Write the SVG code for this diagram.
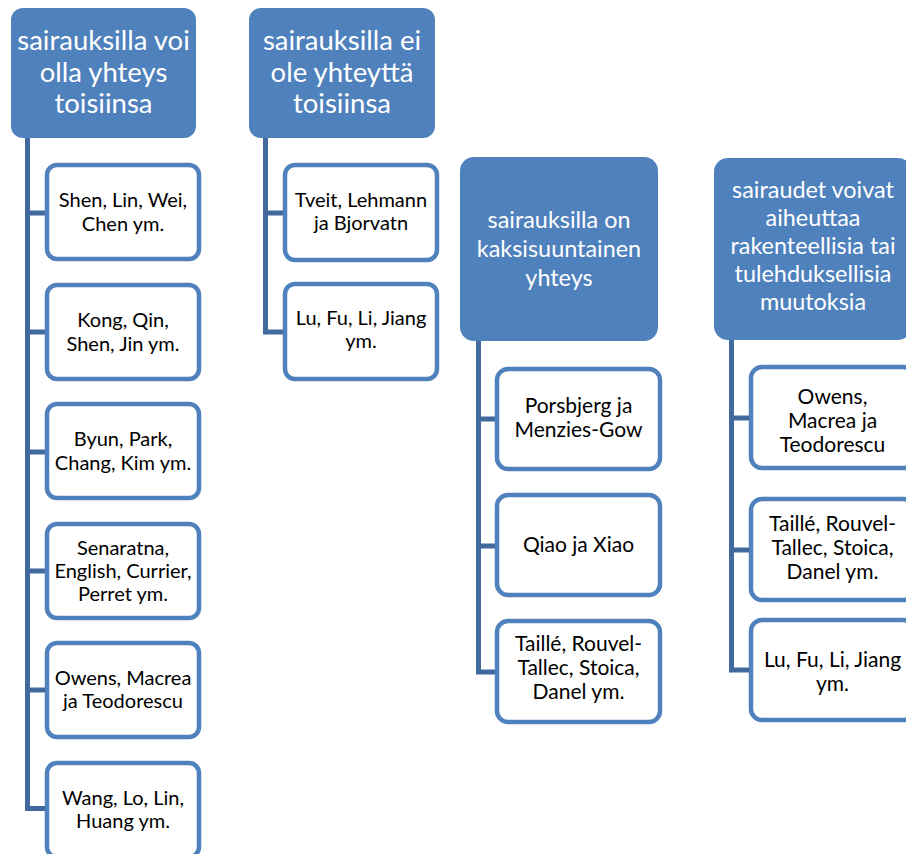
<svg xmlns="http://www.w3.org/2000/svg" width="906" height="854" viewBox="0 0 906 854">
<style>
.hd{fill:#4f81bd;}
.ch{fill:#ffffff;stroke:#4f81bd;stroke-width:4.5;}
.conn{fill:none;stroke:#41699d;stroke-width:5;stroke-linejoin:miter;}
.ht{font-family:Lato,"Open Sans",sans-serif;fill:#ffffff;text-anchor:middle;}
.h1{font-size:27.5px;}
.h2{font-size:23.4px;}
.ct{font-family:Lato,"Open Sans",sans-serif;fill:#000000;text-anchor:middle;}
.c1{font-size:20px;}
.c2{font-size:21px;}
</style>
<rect width="906" height="854" fill="#ffffff"/>
<g id="connectors">
<path class="conn" d="M27.5,138 V808.5 H47 M27.5,213 H47 M27.5,332 H47 M27.5,452 H47 M27.5,571 H47 M27.5,690 H47"/>
<path class="conn" d="M265.5,138 V332 H285 M265.5,213 H285"/>
<path class="conn" d="M478.5,341 V672 H497 M478.5,419 H497 M478.5,546 H497"/>
<path class="conn" d="M731.5,340 V670 H751 M731.5,418 H751 M731.5,550 H751"/>
</g>
<g id="h1"><rect class="hd" x="11" y="8" width="185" height="130" rx="12"/>
<text class="ht h1"><tspan x="103.5" y="50">sairauksilla voi</tspan><tspan x="103.5" y="82">olla yhteys</tspan><tspan x="103.5" y="113">toisiinsa</tspan></text></g>
<g id="h2"><rect class="hd" x="249" y="8" width="186" height="130" rx="12"/>
<text class="ht h1"><tspan x="342" y="50">sairauksilla ei</tspan><tspan x="342" y="82">ole yhteyttä</tspan><tspan x="342" y="113">toisiinsa</tspan></text></g>
<g id="h3"><rect class="hd" x="460" y="157" width="198" height="184" rx="14"/>
<text class="ht h2"><tspan x="559" y="228">sairauksilla on</tspan><tspan x="559" y="257">kaksisuuntainen</tspan><tspan x="559" y="286">yhteys</tspan></text></g>
<g id="h4"><rect class="hd" x="714" y="158" width="198" height="182" rx="14"/>
<text class="ht h2"><tspan x="813" y="198">sairaudet voivat</tspan><tspan x="813" y="226">aiheuttaa</tspan><tspan x="813" y="254">rakenteellisia tai</tspan><tspan x="813" y="282">tulehduksellisia</tspan><tspan x="813" y="310">muutoksia</tspan></text></g>

<g id="c1a"><rect class="ch" x="47" y="165" width="152" height="94" rx="10"/><text class="ct c1"><tspan x="123" y="207">Shen, Lin, Wei,</tspan><tspan x="123" y="231">Chen ym.</tspan></text></g>
<g id="c1b"><rect class="ch" x="47" y="285" width="152" height="94" rx="10"/><text class="ct c1"><tspan x="123" y="327">Kong, Qin,</tspan><tspan x="123" y="351">Shen, Jin ym.</tspan></text></g>
<g id="c1c"><rect class="ch" x="47" y="404" width="152" height="94" rx="10"/><text class="ct c1"><tspan x="123" y="446">Byun, Park,</tspan><tspan x="123" y="470">Chang, Kim ym.</tspan></text></g>
<g id="c1d"><rect class="ch" x="47" y="524" width="152" height="94" rx="10"/><text class="ct c1"><tspan x="123" y="555">Senaratna,</tspan><tspan x="123" y="578">English, Currier,</tspan><tspan x="123" y="601">Perret ym.</tspan></text></g>
<g id="c1e"><rect class="ch" x="47" y="643" width="152" height="94" rx="10"/><text class="ct c1"><tspan x="123" y="685">Owens, Macrea</tspan><tspan x="123" y="708">ja Teodorescu</tspan></text></g>
<g id="c1f"><rect class="ch" x="47" y="763" width="152" height="94" rx="10"/><text class="ct c1"><tspan x="123" y="805">Wang, Lo, Lin,</tspan><tspan x="123" y="828">Huang ym.</tspan></text></g>

<g id="c2a"><rect class="ch" x="285" y="165" width="152" height="95" rx="10"/><text class="ct c1"><tspan x="361" y="207">Tveit, Lehmann</tspan><tspan x="361" y="230">ja Bjorvatn</tspan></text></g>
<g id="c2b"><rect class="ch" x="285" y="284" width="152" height="95" rx="10"/><text class="ct c1"><tspan x="361" y="325">Lu, Fu, Li, Jiang</tspan><tspan x="361" y="348">ym.</tspan></text></g>

<g id="c3a"><rect class="ch" x="497" y="369" width="163" height="100" rx="11"/><text class="ct c2"><tspan x="578.5" y="413">Porsbjerg ja</tspan><tspan x="578.5" y="437">Menzies-Gow</tspan></text></g>
<g id="c3b"><rect class="ch" x="497" y="495" width="163" height="100" rx="11"/><text class="ct c2"><tspan x="578.5" y="552">Qiao ja Xiao</tspan></text></g>
<g id="c3c"><rect class="ch" x="497" y="621" width="163" height="101" rx="11"/><text class="ct c2"><tspan x="578.5" y="651">Taillé, Rouvel-</tspan><tspan x="578.5" y="675">Tallec, Stoica,</tspan><tspan x="578.5" y="699">Danel ym.</tspan></text></g>

<g id="c4a"><rect class="ch" x="751" y="367" width="163" height="101" rx="11"/><text class="ct c2"><tspan x="832.5" y="404">Owens,</tspan><tspan x="832.5" y="428">Macrea ja</tspan><tspan x="832.5" y="452">Teodorescu</tspan></text></g>
<g id="c4b"><rect class="ch" x="751" y="499" width="163" height="101" rx="11"/><text class="ct c2"><tspan x="832.5" y="531">Taillé, Rouvel-</tspan><tspan x="832.5" y="555">Tallec, Stoica,</tspan><tspan x="832.5" y="579">Danel ym.</tspan></text></g>
<g id="c4c"><rect class="ch" x="751" y="620" width="163" height="100" rx="11"/><text class="ct c2"><tspan x="832.5" y="667">Lu, Fu, Li, Jiang</tspan><tspan x="832.5" y="691">ym.</tspan></text></g>
</svg>
